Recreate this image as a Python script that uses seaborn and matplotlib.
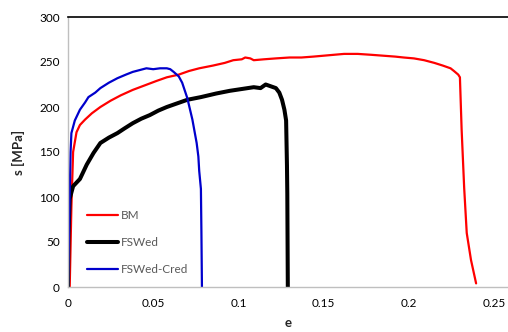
import matplotlib
matplotlib.use("Agg")
import matplotlib.pyplot as plt
import seaborn as sns
import pandas as pd
from matplotlib.ticker import MultipleLocator

# strain / stress points
bm_e = [0.001, 0.002, 0.003, 0.005, 0.007, 0.010, 0.014, 0.019, 0.025, 0.031, 0.038, 0.045,
        0.052, 0.058, 0.065, 0.071, 0.077, 0.085, 0.092, 0.097, 0.102, 0.104, 0.107, 0.109,
        0.115, 0.122, 0.130, 0.137, 0.144, 0.150, 0.156, 0.162, 0.170, 0.178, 0.185, 0.192,
        0.197, 0.203, 0.209, 0.215, 0.220, 0.2245, 0.2265, 0.229, 0.2300, 0.2310, 0.2325,
        0.234, 0.2365, 0.2395]
bm_s = [0, 90, 150, 172, 180, 186, 193, 200, 207, 213, 219, 224,
        229, 233, 236, 240, 243, 246, 249, 252, 253, 255, 254, 252,
        253, 254, 255, 255, 256, 257, 258, 259, 259, 258, 257, 256,
        255, 254, 252, 249, 246, 243, 240, 236, 233, 175, 110,
        60, 30, 4]

fsw_e = [0.0, 0.0003, 0.001, 0.003, 0.007, 0.011, 0.015, 0.019, 0.024, 0.029, 0.033, 0.038,
         0.043, 0.048, 0.053, 0.058, 0.064, 0.070, 0.078, 0.087, 0.095, 0.102, 0.109, 0.113,
         0.116, 0.119, 0.122, 0.124, 0.1256, 0.127, 0.128, 0.1285, 0.1287, 0.129]
fsw_s = [0, 60, 98, 112, 120, 136, 149, 160, 166, 171, 176, 182,
         187, 191, 196, 200, 204, 208, 211, 215, 218, 220, 222, 221,
         225, 223, 221, 216, 208, 197, 185, 135, 104, 0]

cred_e = [0.0, 0.0008, 0.0015, 0.002, 0.004, 0.007, 0.010, 0.012, 0.016, 0.019, 0.024, 0.029,
          0.034, 0.038, 0.042, 0.046, 0.050, 0.054, 0.058, 0.060, 0.062, 0.065, 0.067, 0.070,
          0.073, 0.0755, 0.0765, 0.077, 0.078, 0.0783, 0.0786]
cred_s = [0, 80, 150, 171, 185, 197, 205, 211, 216, 221, 227, 232,
          236, 239, 241, 243, 242, 243, 243, 242, 239, 234, 227, 210,
          186, 160, 145, 129, 109, 60, 0]

series = ["BM", "FSWed", "FSWed-Cred"]
colors = {"BM": "#ff0000", "FSWed": "#000000", "FSWed-Cred": "#0000cc"}
widths = {"BM": 1.6, "FSWed": 2.9, "FSWed-Cred": 1.6}

df = pd.concat([
    pd.DataFrame({"e": bm_e, "s": bm_s, "curve": "BM"}),
    pd.DataFrame({"e": fsw_e, "s": fsw_s, "curve": "FSWed"}),
    pd.DataFrame({"e": cred_e, "s": cred_s, "curve": "FSWed-Cred"}),
])

sns.set_style("white")
plt.rcParams["font.family"] = ["Lato", "DejaVu Sans"]

fig = plt.figure(figsize=(5.08, 3.32), dpi=100)
ax = fig.add_axes([68 / 508, 45 / 332, 440 / 508, 270 / 332])

for name in series:
    sns.lineplot(data=df[df.curve == name], x="e", y="s", sort=False, estimator=None,
                 color=colors[name], lw=widths[name], label=name, ax=ax)

ax.set_xlim(0, 440 / 1704)
ax.set_ylim(0, 300)
ax.xaxis.set_minor_locator(MultipleLocator(0.01))
ax.yaxis.set_major_locator(MultipleLocator(50))
ax.yaxis.set_minor_locator(MultipleLocator(10))
ax.set_xticks([0, 0.05, 0.1, 0.15, 0.2, 0.25])
ax.set_xticklabels(["0", "0.05", "0.1", "0.15", "0.2", "0.25"])
ax.tick_params(axis="both", which="both", direction="in", color="#bfbfbf",
               labelsize=8.5, labelcolor="#000000")
ax.tick_params(axis="x", pad=8)
ax.tick_params(axis="y", pad=6)
ax.tick_params(which="major", length=4)
ax.tick_params(which="minor", length=3)

for side in ["left", "bottom"]:
    ax.spines[side].set_color("#bfbfbf")
    ax.spines[side].set_linewidth(1.0)
ax.spines["right"].set_visible(False)
ax.spines["top"].set_color("#000000")
ax.spines["top"].set_linewidth(1.2)

ax.set_xlabel("e", fontsize=9.5, fontweight="bold", labelpad=6)
ax.set_ylabel("s [MPa]", fontsize=9.5, fontweight="bold", labelpad=10)

leg = ax.legend(loc="upper left", bbox_to_anchor=(0.02, 0.325), frameon=False,
                fontsize=8.5, handlelength=2.6, handletextpad=0.2, labelspacing=1.35)
for t in leg.get_texts():
    t.set_color("#595959")

fig.savefig("out.png", dpi=100)
